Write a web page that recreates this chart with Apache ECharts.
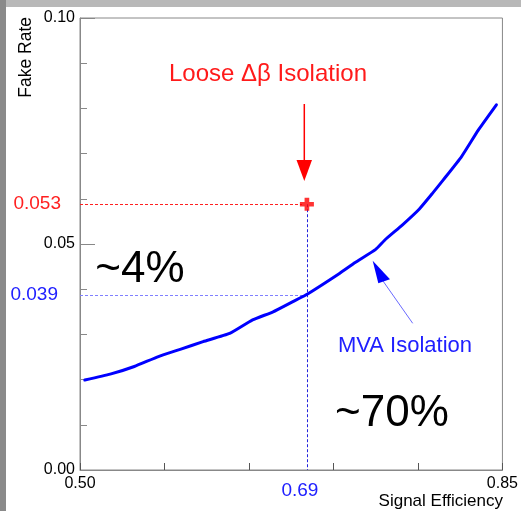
<!DOCTYPE html>
<html>
<head>
<meta charset="utf-8">
<script src="https://cdn.jsdelivr.net/npm/echarts@6/dist/echarts.min.js"></script>
<style>
html,body{margin:0;padding:0;background:#fff;}
#c{width:521px;height:511px;}
</style>
</head>
<body>
<div id="c"></div>
<script>
// ---- data ----
const mvaEff  = [0.504,0.525,0.545,0.565,0.583,0.602,0.624,0.643,0.660,0.676,0.687,0.715,0.728,0.745,0.753,0.767,0.781,0.792,0.801,0.816,0.830,0.845];
const mvaFake = [0.0199,0.0212,0.0229,0.0251,0.0267,0.0284,0.0302,0.0332,0.0350,0.0372,0.0387,0.0435,0.0459,0.0488,0.0510,0.0542,0.0577,0.0612,0.0642,0.0693,0.0752,0.0808];
const looseEff = [0.688];
const looseFake = [0.0588];
const mvaAtLooseFake = 0.0387;
const xTicks = [0.50,0.57,0.64,0.71,0.78,0.85];
const xTickLabels = [0.50,0.85];
const yLabels = [0.00,0.05,0.10];
const annotLoose = '0.053';
const annotMva = '0.039';
const annotEff = '0.69';

const FONT = '"Liberation Sans", Arial, sans-serif';
const chart = echarts.init(document.getElementById('c'), null, {renderer:'canvas'});

const option = {
  backgroundColor:'#fff',
  animation:false,
  grid:{left:80, top:18, right:17, bottom:41, show:true, borderColor:'#888', borderWidth:1},
  xAxis:{
    type:'value', min:0.5, max:0.85,
    splitLine:{show:false},
    axisLine:{lineStyle:{color:'#888', width:1}},
    axisTick:{show:true, inside:true, length:7, lineStyle:{color:'#555'}, customValues:xTicks},
    axisLabel:{customValues:xTickLabels, formatter:v=>v.toFixed(2), color:'#000', fontSize:16, fontFamily:FONT, margin:6, showMinLabel:true, showMaxLabel:true}
  },
  yAxis:{
    type:'value', min:0, max:0.1, interval:0.05,
    splitLine:{show:false},
    axisLine:{lineStyle:{color:'#888', width:1}},
    axisTick:{show:true, inside:true, length:15, lineStyle:{color:'#888'}},
    minorTick:{show:true, splitNumber:5, length:7, lineStyle:{color:'#888'}},
    axisLabel:{formatter:v=>(yLabels.some(t=>Math.abs(t-v)<1e-9)? v.toFixed(2):''), color:'#000', fontSize:16, fontFamily:FONT, margin:5}
  },
  series:[
    {
      type:'line', data:mvaEff.map((e,i)=>[e,mvaFake[i]]),
      showSymbol:false, smooth:0.15, z:5,
      lineStyle:{color:'#0000ff', width:3, join:'round', cap:'round'}
    },
    {
      type:'scatter', data:looseEff.map((e,i)=>[e,looseFake[i]]), z:6,
      symbol:'path://M4,0L8,0L8,4L12,4L12,8L8,8L8,12L4,12L4,8L0,8L0,4L4,4Z',
      symbolSize:[14,13], itemStyle:{color:'#ff0000'},
      markLine:{
        silent:true, symbol:'none', animation:false,
        data:[
          [{coord:[0.5, looseFake[0]], lineStyle:{color:'#ff2020', type:[3,2], width:1},
            label:{show:true, position:'start', formatter:annotLoose, color:'#ff2020', fontSize:19, fontFamily:FONT, distance:19, padding:[0,0,4,0]}},
           {coord:[looseEff[0]-0.004, looseFake[0]]}],
          [{coord:[0.5, mvaAtLooseFake], lineStyle:{color:'#8080ff', type:[3,2], width:1},
            label:{show:true, position:'start', formatter:annotMva, color:'#2020ff', fontSize:19, fontFamily:FONT, distance:22, padding:[0,0,18,0]}},
           {coord:[looseEff[0], mvaAtLooseFake]}],
          [{coord:[looseEff[0], looseFake[0]], lineStyle:{color:'#2222dd', type:[3,2], width:1},
            label:{show:true, position:'end', formatter:annotEff, color:'#2020ff', fontSize:19, fontFamily:FONT, distance:11, padding:[0,14,0,0]}},
           {coord:[looseEff[0], 0]}]
        ]
      }
    }
  ],
  graphic:[
    {type:'rect', shape:{x:0,y:0,width:521,height:7}, style:{fill:'#b8b8b8'}, z:100},
    {type:'rect', shape:{x:0,y:0,width:6,height:511}, style:{fill:'#8a8a8a'}, z:101},
    {type:'text', x:26, y:17, rotation:Math.PI/2, style:{text:'Fake Rate', fill:'#000', font:'17.5px '+FONT, align:'right', verticalAlign:'middle'}},
    {type:'text', x:503, y:501, style:{text:'Signal Efficiency', fill:'#000', font:'17px '+FONT, align:'right', verticalAlign:'middle'}},
    {type:'text', x:268, y:74, style:{text:'Loose \u0394\u03b2 Isolation', fill:'#ff1a1a', font:'24px '+FONT, align:'center', verticalAlign:'middle'}},
    {type:'text', x:405, y:346, style:{text:'MVA Isolation', fill:'#2020ff', font:'22px '+FONT, align:'center', verticalAlign:'middle'}},
    {type:'text', x:140, y:270, style:{text:'~4%', fill:'#000', font:'44px '+FONT, align:'center', verticalAlign:'middle'}},
    {type:'text', x:392, y:414, style:{text:'~70%', fill:'#000', font:'44px '+FONT, align:'center', verticalAlign:'middle'}},
    {type:'line', shape:{x1:304.3,y1:104,x2:304.3,y2:162}, style:{stroke:'#ff0000', lineWidth:1.5}},
    {type:'polygon', shape:{points:[[296.5,160],[312,160],[304.3,181]]}, style:{fill:'#ff0000'}},
    {type:'line', shape:{x1:412.7,y1:323.3,x2:383,y2:281}, style:{stroke:'#6a6aff', lineWidth:1}},
    {type:'polygon', shape:{points:[[372.7,260.7],[378.3,283.3],[390,279.3]]}, style:{fill:'#0000ff'}}
  ]
};
chart.setOption(option);
</script>
</body>
</html>
